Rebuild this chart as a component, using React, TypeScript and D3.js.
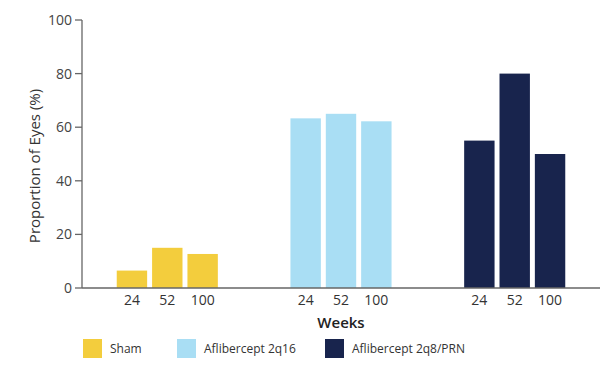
import React from "react";
import * as d3 from "d3";

const groups = ["Sham", "Aflibercept 2q16", "Aflibercept 2q8/PRN"];
const weeks = ["24", "52", "100"];
const shamValues = [6.5, 15, 12.7];
const q16Values = [63.3, 65, 62.2];
const q8Values = [55, 80, 50];
const yTicks = [0, 20, 40, 60, 80, 100];
const colors = ["#F3CD3D", "#A9DEF4", "#18244D"];

const W = 615, H = 378;
const x0 = 82, x1 = 600, yTop = 20, yBot = 288;

export default function App() {
  const series = [shamValues, q16Values, q8Values];
  const y = d3.scaleLinear().domain([0, 100]).range([yBot, yTop]);
  const gx = d3.scaleBand<string>().domain(groups).range([x0, x1]).paddingInner(0.418).paddingOuter(0.2);
  const ix = d3.scaleBand<string>().domain(weeks).range([0, gx.bandwidth()]).paddingInner(0.14).paddingOuter(0);
  const font = "'Open Sans', sans-serif";
  const legendX = [83, 177, 325];
  return (
    <svg width={W} height={H} style={{ position: "absolute", left: 0, top: 0, background: "#fff" }} fontFamily={font}>
      {groups.map((g, gi) =>
        series[gi].map((v, wi) => (
          <rect key={g + wi} x={(gx(g) ?? 0) + (ix(weeks[wi]) ?? 0)} y={y(v)} width={ix.bandwidth()} height={yBot - y(v)} fill={colors[gi]} />
        ))
      )}
      <line x1={x0} x2={x0} y1={yTop} y2={yBot} stroke="#666" strokeWidth={1.3} />
      <line x1={x0} x2={x1} y1={yBot} y2={yBot} stroke="#666" strokeWidth={1.3} />
      {yTicks.map(t => (
        <g key={t}>
          <line x1={x0 - 7} x2={x0} y1={y(t)} y2={y(t)} stroke="#666" strokeWidth={1.3} />
          <text x={x0 - 10} y={y(t)} dy="0.35em" textAnchor="end" fontSize={14} fill="#444">{t}</text>
        </g>
      ))}
      {groups.map(g =>
        weeks.map(w => (
          <text key={g + w} x={(gx(g) ?? 0) + (ix(w) ?? 0) + ix.bandwidth() / 2} y={300} dy="0.35em" textAnchor="middle" fontSize={14} fill="#333">{w}</text>
        ))
      )}
      <text transform={`translate(35,166) rotate(-90)`} textAnchor="middle" dy="0.35em" fontSize={15} fill="#333">Proportion of Eyes (%)</text>
      <text x={341} y={328} textAnchor="middle" fontSize={15} fontWeight={600} fill="#222">Weeks</text>
      {groups.map((g, gi) => (
        <g key={g}>
          <rect x={legendX[gi]} y={339} width={19} height={19} fill={colors[gi]} />
          <text x={legendX[gi] + 27} y={349} dy="0.35em" fontSize={12} fill="#333">{g}</text>
        </g>
      ))}
    </svg>
  );
}
